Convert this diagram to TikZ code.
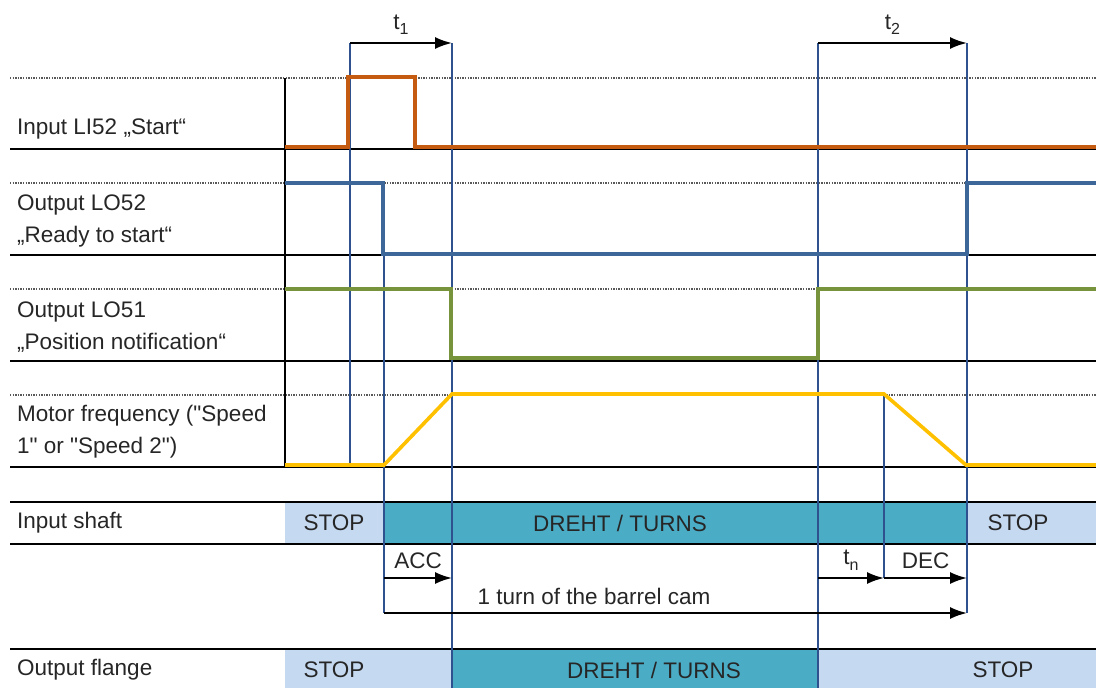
\documentclass[tikz,border=0pt]{standalone}
\usepackage{fontspec}
\setmainfont{Liberation Sans}[Ligatures=TeXOff]
\usetikzlibrary{arrows.meta}
\definecolor{txt}{HTML}{262626}
\definecolor{sigorange}{HTML}{C55A11}
\definecolor{sigblue}{HTML}{3D6699}
\definecolor{siggreen}{HTML}{77933C}
\definecolor{sigyellow}{HTML}{FFC000}
\definecolor{vline}{HTML}{2F528F}
\definecolor{lightbar}{HTML}{C5D9F1}
\definecolor{tealbar}{HTML}{4BACC6}
\tikzset{
  lbl/.style={anchor=west, inner sep=0pt, text=txt, font=\fontsize{22.5}{32}\selectfont, align=left},
  bartxt/.style={inner sep=0pt, text=txt, font=\fontsize{22.5}{26}\selectfont},
  dotline/.style={draw=gray!70!black, line width=2.6pt, dash pattern=on 1.3pt off 1.3pt},
  baseline/.style={draw=black, line width=2.6pt},
  marker/.style={draw=vline, line width=2pt},
  tarrow/.style={draw=black, line width=2pt, -{Latex[length=17pt,width=12pt]}},
  sig/.style={line width=3.6pt, line join=miter},
}
\newcommand{\sub}[2]{#1\raisebox{-0.45ex}{\fontsize{16}{16}\selectfont #2}}
\begin{document}
\begin{tikzpicture}[x=1pt,y=-1pt]
\useasboundingbox (0,0) rectangle (1096,688);
% bars
\fill[lightbar] (285,502) rectangle (384,544);
\fill[tealbar] (384,502) rectangle (967,544);
\fill[lightbar] (967,502) rectangle (1096,544);
\fill[lightbar] (285,649) rectangle (452,688);
\fill[tealbar] (452,649) rectangle (818,688);
\fill[lightbar] (818,649) rectangle (1096,688);
% dotted top lines
\foreach \y in {78,183,289,395} \draw[dotline] (10,\y) -- (1096,\y);
% baselines
\foreach \y in {149,255,361,467,502,544,649} \draw[baseline] (10,\y) -- (1096,\y);
% axis
\draw[black, line width=2.6pt] (285,78) -- (285,467);
% time coordinates
\coordinate (a1) at (350,43); \coordinate (a2) at (350,466);
\coordinate (b1) at (452,43); \coordinate (b2) at (452,688);
\coordinate (c1) at (384,255); \coordinate (c2) at (384,613);
\coordinate (d1) at (818,43); \coordinate (d2) at (818,688);
\coordinate (e1) at (967,43); \coordinate (e2) at (967,613);
\coordinate (f1) at (884,394); \coordinate (f2) at (884,578);
\draw[marker] (a1) -- (a2);
\draw[marker] (b1) -- (b2);
\draw[marker] (c1) -- (c2);
\draw[marker] (d1) -- (d2);
\draw[marker] (e1) -- (e2);
\draw[marker] (f1) -- (f2);
% signals
\draw[sig, sigorange] (285,147) -- (348,147) -- (348,77) -- (415,77) -- (415,147) -- (1096,147);
\draw[sig, sigblue] (285,183) -- (383,183) -- (383,254) -- (967,254) -- (967,183) -- (1096,183);
\draw[sig, siggreen] (285,289) -- (451,289) -- (451,358) -- (818,358) -- (818,289) -- (1096,289);
\draw[sig, sigyellow] (285,465) -- (384,465) -- (452,394) -- (884,394) -- (966,465) -- (1096,465);
% arrows
\draw[tarrow] (a1) -- (b1) node[midway, above=7pt, bartxt] (t1) {\sub{t}{1}};
\draw[tarrow] (d1) -- (e1) node[midway, above=7pt, bartxt] (t2) {\sub{t}{2}};
\coordinate (acc1) at (384,578); \coordinate (acc2) at (452,578);
\coordinate (tn1) at (818,578);
\coordinate (dec2) at (967,578);
\draw[tarrow] (acc1) -- (acc2) node[midway, above=8pt, bartxt] (acc) {ACC};
\draw[tarrow] (tn1) -- (f2) node[midway, above=7pt, bartxt] (tn) {\sub{t}{n}};
\draw[tarrow] (f2) -- (dec2) node[midway, above=8pt, bartxt] (dec) {DEC};
\draw[tarrow] (c2) -- (e2);
\node[bartxt] (turn) at (594,596) {1 turn of the barrel cam};
% left labels
\node[lbl] (l1) at (17,129) {Input LI52 „Start“};
\node[lbl] (l2) at (17,221) {Output LO52\\„Ready to start“};
\node[lbl] (l3) at (17,327) {Output LO51\\„Position notification“};
\node[lbl] (l4) at (17,432) {Motor frequency ("Speed\\1" or "Speed 2")};
\node[lbl] (l5) at (17,523) {Input shaft};
\node[lbl] (l6) at (17,670) {Output flange};
% bar texts
\node[bartxt] (s1) at (334,523) {STOP};
\node[bartxt] (s2) at (620,523) {DREHT / TURNS};
\node[bartxt] (s3) at (1018,523) {STOP};
\node[bartxt] (s4) at (334,670) {STOP};
\node[bartxt] (s5) at (654,670) {DREHT / TURNS};
\node[bartxt] (s6) at (1003,670) {STOP};
\end{tikzpicture}
\end{document}
